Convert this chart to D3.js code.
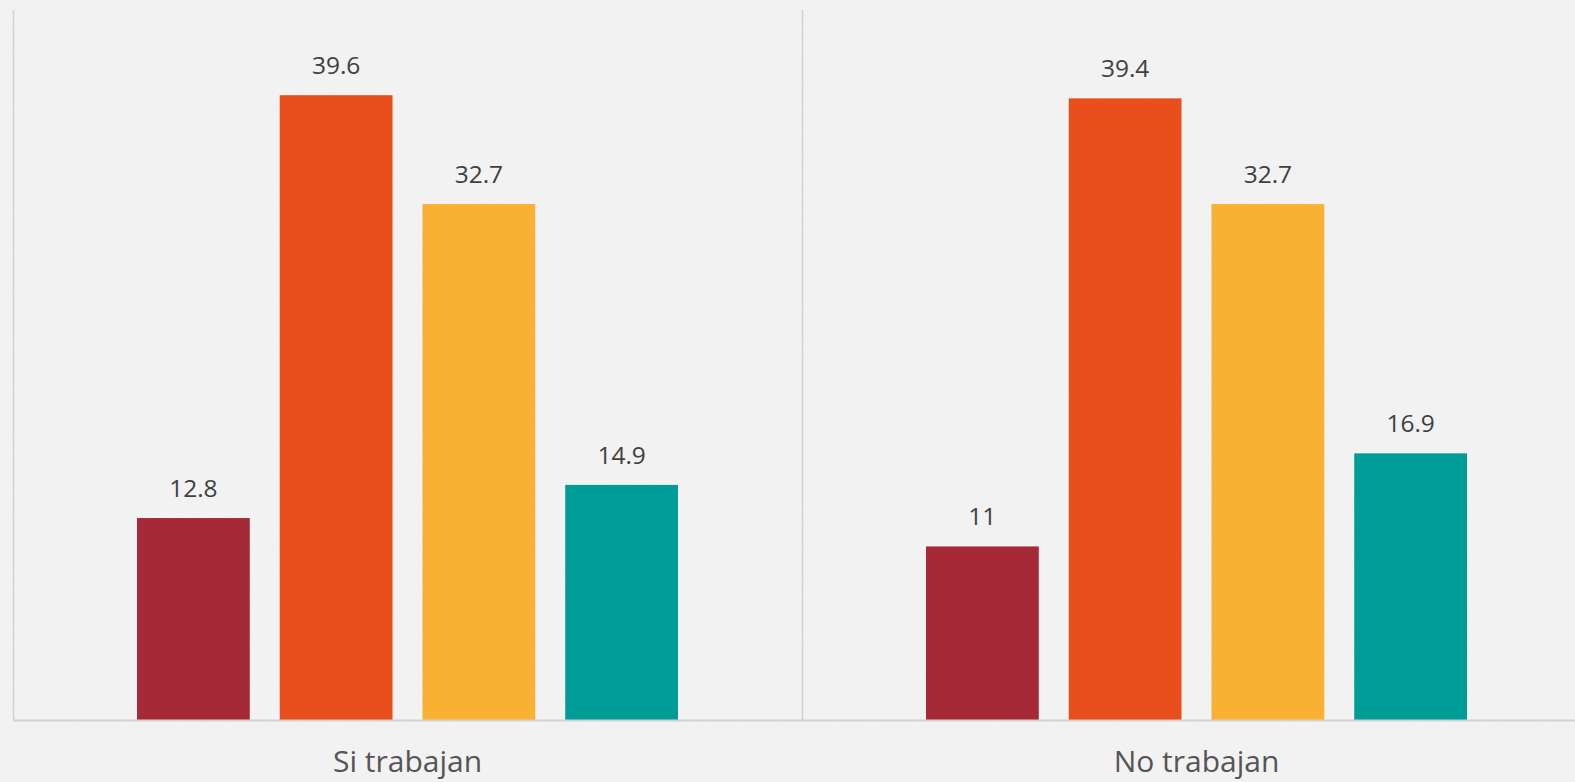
<!DOCTYPE html>
<html>
<head>
<meta charset="utf-8">
<script src="https://cdn.jsdelivr.net/npm/d3@7"></script>
<style>
  html, body { margin: 0; padding: 0; background: #f3f3f3; }
  svg { display: block; }
</style>
</head>
<body>
<svg id="chart" width="1575" height="782"></svg>
<script>
// Groups along the x axis
const groups = ["Si trabajan", "No trabajan"];
// Four series per group
const seriesNames = ["s1", "s2", "s3", "s4"];
const seriesColors = ["#A52936", "#E84F1C", "#F8B133", "#009D98"];
// Values per series, one entry per group
const s1Values = [12.8, 11];
const s2Values = [39.6, 39.4];
const s3Values = [32.7, 32.7];
const s4Values = [14.9, 16.9];
const seriesValues = [s1Values, s2Values, s3Values, s4Values];

const width = 1575, height = 782;
const svg = d3.select("#chart");
const fontFamily = "'Open Sans', 'Noto Sans', sans-serif";

// Paper-like background with fine grain
const defs = svg.append("defs");
const grain = defs.append("filter").attr("id", "grain")
  .attr("x", 0).attr("y", 0).attr("width", "100%").attr("height", "100%");
grain.append("feTurbulence").attr("type", "fractalNoise")
  .attr("baseFrequency", 0.9).attr("numOctaves", 2).attr("seed", 7).attr("result", "noise");
grain.append("feColorMatrix").attr("in", "noise").attr("type", "matrix")
  .attr("values", "0 0 0 0 0.55  0 0 0 0 0.55  0 0 0 0 0.55  0 0 0 0.12 0");
svg.append("rect").attr("width", width).attr("height", height).attr("fill", "#f5f5f5");
svg.append("rect").attr("width", width).attr("height", height).attr("filter", "url(#grain)");

const plotLeft = 13, groupWidth = 789, plotTop = 10, plotBottom = 720;

const x0 = d3.scaleBand()
  .domain(groups)
  .range([plotLeft, plotLeft + groupWidth * groups.length])
  .paddingInner(0).paddingOuter(0);

const x1 = d3.scaleBand()
  .domain(seriesNames)
  .range([124, 665])
  .paddingInner(0.21).paddingOuter(0);

const y = d3.scaleLinear().domain([0, 45]).range([plotBottom, plotTop]);

const gridColor = "#d2d2d2";

// Left axis line and separator between groups
groups.forEach(g => {
  svg.append("line")
    .attr("x1", x0(g) + 0.5).attr("x2", x0(g) + 0.5)
    .attr("y1", y(45)).attr("y2", y(0))
    .attr("stroke", gridColor).attr("stroke-width", 1.5);
});

// Bars with value labels
const gSel = svg.selectAll("g.group")
  .data(groups)
  .join("g")
  .attr("class", "group")
  .attr("transform", d => `translate(${x0(d)},0)`);

gSel.each(function(g, gi) {
  const sel = d3.select(this);
  seriesNames.forEach((s, si) => {
    const v = seriesValues[si][gi];
    sel.append("rect")
      .attr("x", x1(s))
      .attr("y", y(v))
      .attr("width", x1.bandwidth())
      .attr("height", y(0) - y(v))
      .attr("fill", seriesColors[si]);
    sel.append("text")
      .attr("x", x1(s) + x1.bandwidth() / 2)
      .attr("y", y(v) - 21)
      .attr("text-anchor", "middle")
      .attr("font-family", fontFamily)
      .attr("font-size", 24.5)
      .attr("fill", "#404040")
      .text(v);
  });
});

// Baseline
svg.append("line")
  .attr("x1", plotLeft).attr("x2", width)
  .attr("y1", y(0) + 0.5).attr("y2", y(0) + 0.5)
  .attr("stroke", gridColor).attr("stroke-width", 2);

// Category labels
svg.selectAll("text.cat")
  .data(groups)
  .join("text")
  .attr("class", "cat")
  .attr("x", d => x0(d) + x0.bandwidth() / 2)
  .attr("y", 772)
  .attr("text-anchor", "middle")
  .attr("font-family", fontFamily)
  .attr("font-size", 30)
  .attr("fill", "#555555")
  .text(d => d);
</script>
</body>
</html>
